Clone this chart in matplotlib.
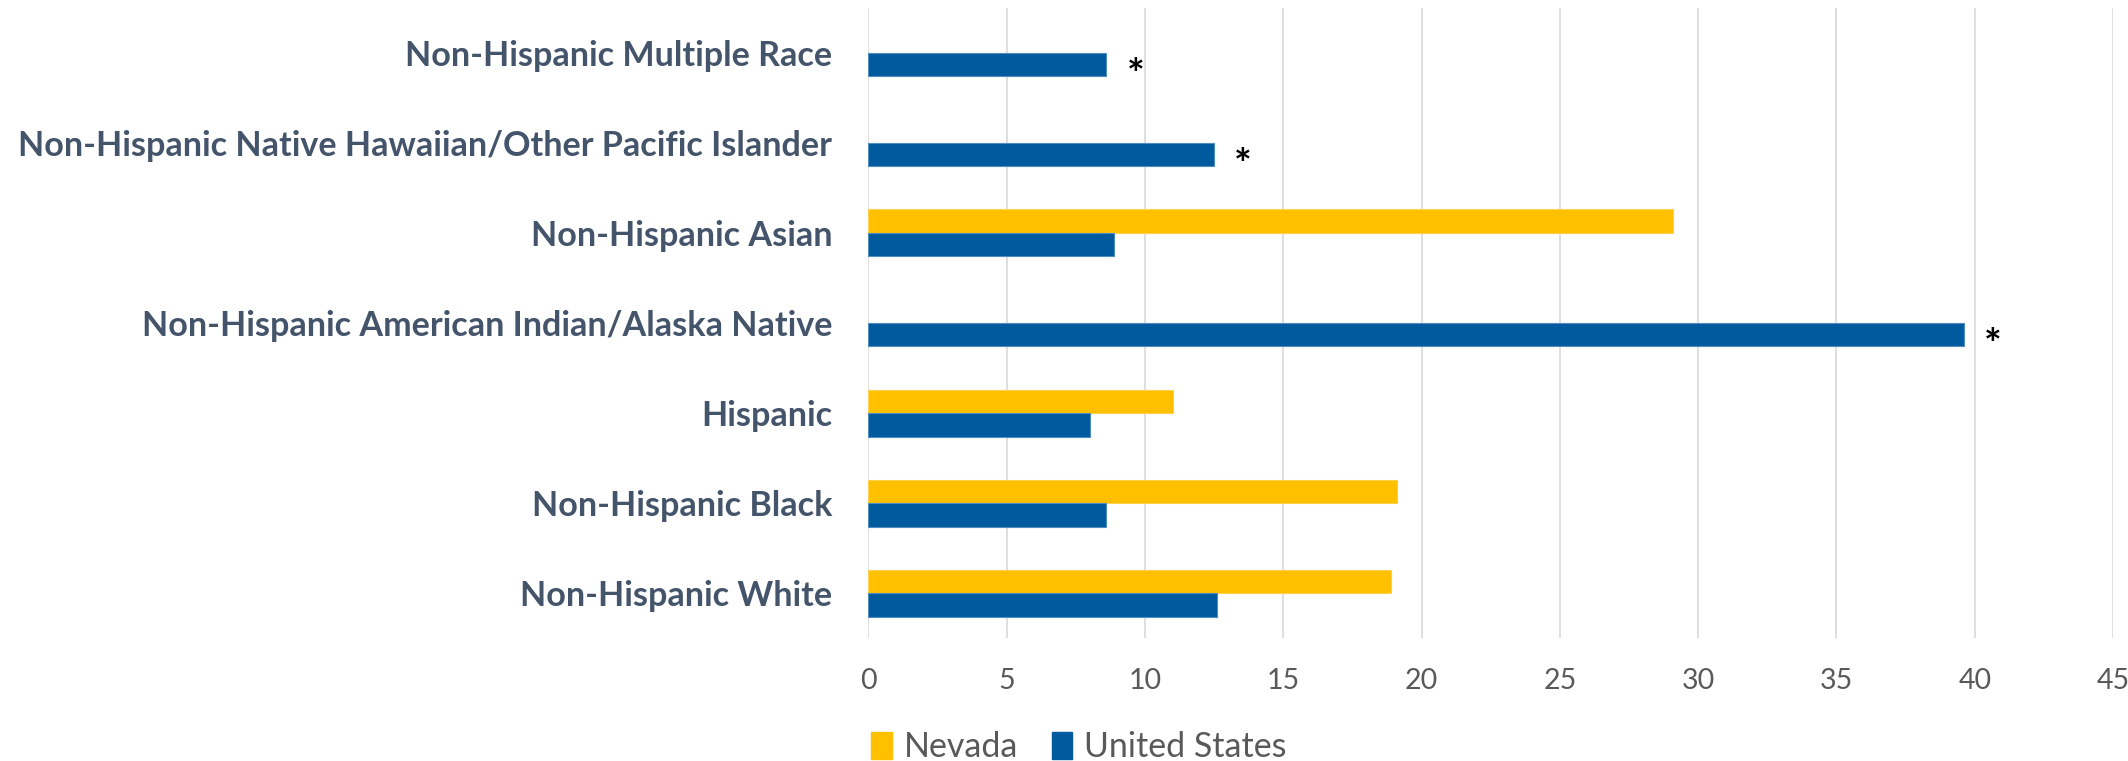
import numpy as np
import matplotlib.pyplot as plt
from matplotlib.patches import Patch

categories = [
    "Non-Hispanic White",
    "Non-Hispanic Black",
    "Hispanic",
    "Non-Hispanic American Indian/Alaska Native",
    "Non-Hispanic Asian",
    "Non-Hispanic Native Hawaiian/Other Pacific Islander",
    "Non-Hispanic Multiple Race",
]
nevada = [18.9, 19.1, 11.0, np.nan, 29.1, np.nan, np.nan]
united_states = [12.6, 8.6, 8.0, 39.6, 8.9, 12.5, 8.6]
# rows where the Nevada rate is suppressed
suppressed = [False, False, False, True, False, True, True]
xticks = [0, 5, 10, 15, 20, 25, 30, 35, 40, 45]

NV_COLOR = "#FFC000"
US_COLOR = "#005A9E"
LABEL_COLOR = "#44546A"
TICK_COLOR = "#595959"

fig = plt.figure(figsize=(21.28, 7.61), dpi=100)
ax = fig.add_axes([0.408, 0.161, 0.585, 0.829])

y = np.arange(len(categories))
h = 0.26
ax.barh(y + h / 2, nevada, height=h, color=NV_COLOR, edgecolor="#FFD24D", linewidth=0.8, zorder=3)
ax.barh(y - h / 2, united_states, height=h, color=US_COLOR, edgecolor="#4F8CC0", linewidth=0.8, zorder=3)

for yi, val, star in zip(y, united_states, suppressed):
    if star:
        ax.annotate("*", xy=(val, yi - h / 2), xytext=(21, -9), textcoords="offset points",
                    ha="center", va="center", fontsize=30, fontweight="bold",
                    color="black", family="Lato")

ax.set_xlim(0, 45)
ax.set_ylim(-0.5, len(categories) - 0.5)
ax.set_xticks(xticks)
ax.set_xticklabels([str(t) for t in xticks], family="Lato", fontsize=20.5, color=TICK_COLOR)
ax.set_yticks(y)
ax.set_yticklabels(categories, family="Lato", fontsize=24.6, fontweight="bold", color=LABEL_COLOR)
ax.tick_params(axis="x", length=0, pad=21)
ax.tick_params(axis="y", length=0, pad=26)

ax.grid(axis="x", color="#D9D9D9", linewidth=1.2, zorder=0)
for side in ["top", "right", "bottom", "left"]:
    ax.spines[side].set_visible(False)

handles = [Patch(color=NV_COLOR, label="Nevada"), Patch(color=US_COLOR, label="United States")]
fig.legend(handles=handles, loc="center", bbox_to_anchor=(0.507, 0.018), ncol=2, frameon=False,
           prop={"family": "Lato", "size": 24.5}, labelcolor=TICK_COLOR,
           handlelength=0.6, handleheight=0.85, handletextpad=0.35, columnspacing=1.0)

plt.savefig("out.png", dpi=100)
